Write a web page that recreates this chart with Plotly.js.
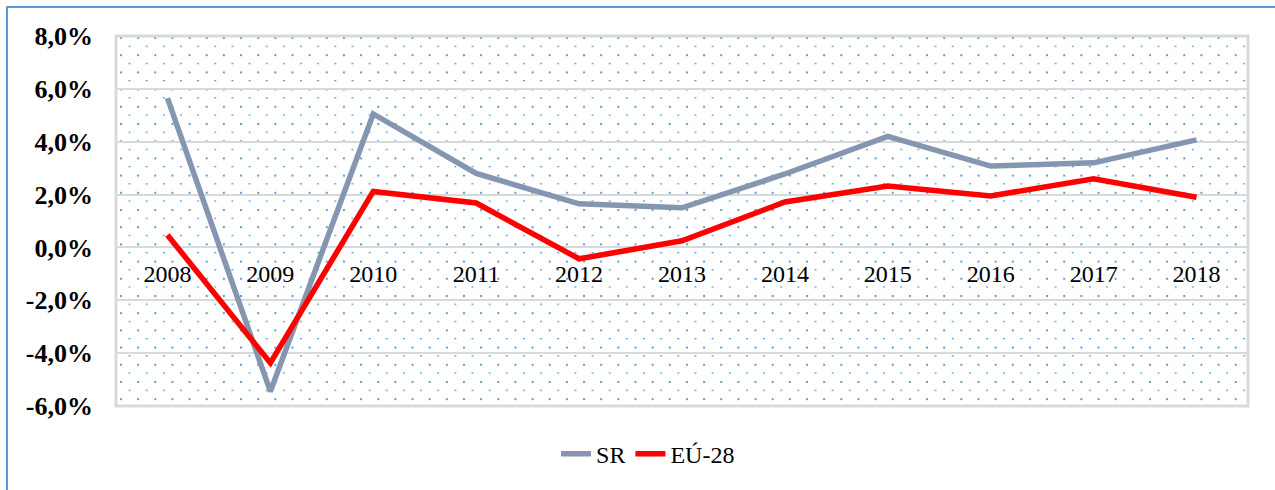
<!DOCTYPE html>
<html>
<head>
<meta charset="utf-8">
<script src="https://cdn.plot.ly/plotly-3.0.1.min.js"></script>
<style>
html,body{margin:0;padding:0;background:#fff;}
#chart{width:1275px;height:490px;position:absolute;left:0;top:0;}
#frame{position:absolute;left:6px;top:6px;width:1300px;height:500px;border-left:2px solid #5b9bd5;border-top:2px solid #5b9bd5;pointer-events:none;z-index:10;}
</style>
</head>
<body>
<div id="chart"></div>
<div id="frame"></div>
<script>
const years = ['2008','2009','2010','2011','2012','2013','2014','2015','2016','2017','2018'];
const sr = [5.65, -5.45, 5.05, 2.8, 1.65, 1.5, 2.78, 4.2, 3.08, 3.2, 4.07];
const eu = [0.47, -4.37, 2.12, 1.68, -0.43, 0.25, 1.72, 2.32, 1.95, 2.6, 1.9];
const yTicks = [-6, -4, -2, 0, 2, 4, 6, 8];
const yTickText = ['-6,0%', '-4,0%', '-2,0%', '0,0%', '2,0%', '4,0%', '6,0%', '8,0%'];

const svg = "<svg xmlns='http://www.w3.org/2000/svg' width='1132' height='370'><defs><pattern id='p' x='4' y='1' width='17.15' height='17.2' patternUnits='userSpaceOnUse'><rect x='0' y='0' width='2' height='2' fill='#5b9bd5'/><rect x='8.5' y='8.6' width='2' height='1.3' fill='#5b9bd5'/></pattern></defs><rect width='100%' height='100%' fill='url(#p)'/></svg>";
const bg = 'data:image/svg+xml;charset=utf-8,' + encodeURIComponent(svg);

const serif = 'Liberation Serif, Times New Roman, serif';
const serifBold = 'Times New Roman, Liberation Serif, serif';

const traces = [
  {x: years, y: sr, name: 'SR', type: 'scatter', mode: 'lines',
   line: {color: '#8496b0', width: 5.5}},
  {x: years, y: eu, name: 'EÚ-28', type: 'scatter', mode: 'lines',
   line: {color: '#ff0000', width: 5.5}}
];

const layout = {
  width: 1275, height: 490,
  margin: {l: 116, r: 27, t: 36, b: 84},
  paper_bgcolor: '#fff', plot_bgcolor: 'rgba(0,0,0,0)',
  font: {family: serif, color: '#000'},
  showlegend: true,
  legend: {orientation: 'h', x: 0.47, xanchor: 'center', y: -0.13, yanchor: 'middle',
           font: {size: 24, family: serif}, traceorder: 'normal'},
  xaxis: {type: 'category', range: [-0.5, 10.5], anchor: 'free', position: 6/14,
          showgrid: false, showline: false, zeroline: false, ticks: '',
          ticklabelstandoff: 10,
          tickfont: {size: 24, family: serif}, fixedrange: true},
  yaxis: {range: [-6, 8], tickmode: 'array', tickvals: yTicks,
          ticktext: yTickText,
          showgrid: true, gridcolor: '#d9d9d9', gridwidth: 2,
          zeroline: true, zerolinecolor: '#d9d9d9', zerolinewidth: 2,
          showline: false, ticks: '', ticklabelstandoff: 22,
          tickfont: {size: 26, family: serifBold, weight: 700}},
  images: [{source: bg, xref: 'paper', yref: 'paper', x: 0, y: 1, sizex: 1, sizey: 1,
            xanchor: 'left', yanchor: 'top', sizing: 'stretch', layer: 'below'}],
  shapes: [{type: 'rect', xref: 'paper', yref: 'paper', x0: 0, x1: 1, y0: 0, y1: 1,
            line: {color: '#d9d9d9', width: 3}, layer: 'below'}]
};

Plotly.newPlot('chart', traces, layout, {displayModeBar: false, staticPlot: true});
</script>
</body>
</html>
